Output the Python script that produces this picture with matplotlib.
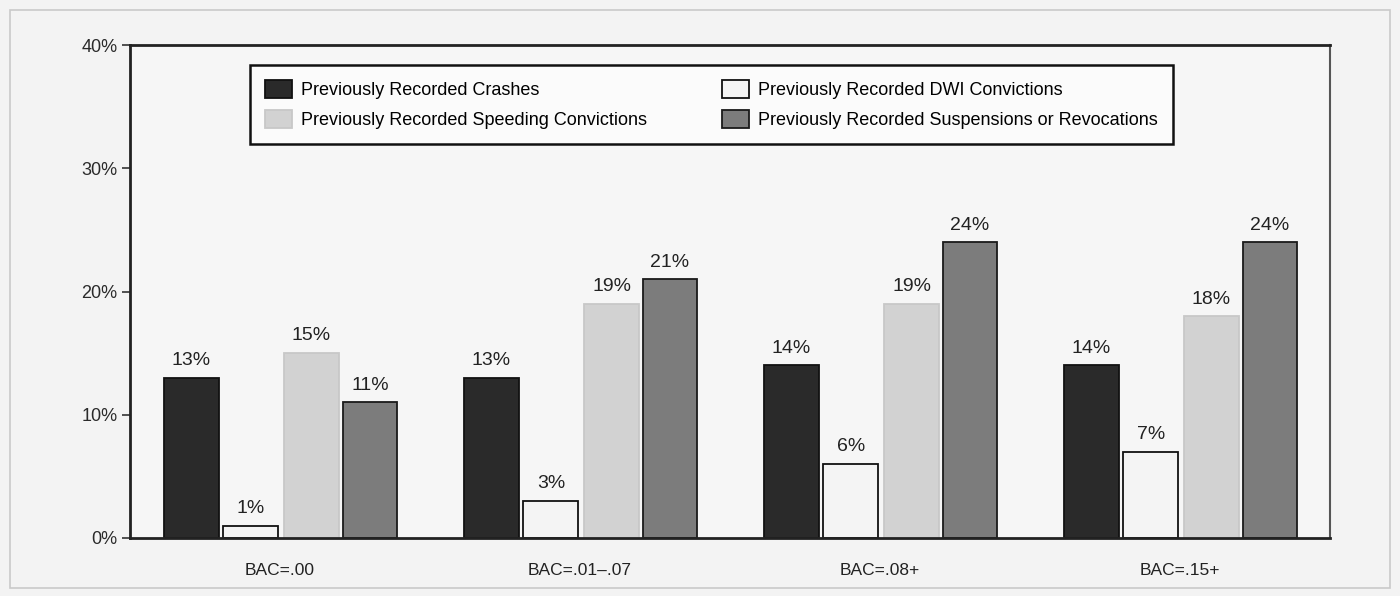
import matplotlib
matplotlib.use("Agg")
import matplotlib.pyplot as plt
import matplotlib.patches as mpatches
import numpy as np

# Share of drivers with prior records, by BAC group
GROUPS = ["BAC=.00", "BAC=.01\u2013.07", "BAC=.08+", "BAC=.15+"]
CRASHES    = [13, 13, 14, 14]
DWI        = [1, 3, 6, 7]
SPEEDING   = [15, 19, 19, 18]
SUSPENSION = [11, 21, 24, 24]

SERIES = [
    ("Previously Recorded Crashes",                  CRASHES,    "#2a2a2a", "#111111"),
    ("Previously Recorded DWI Convictions",          DWI,        "#f4f4f4", "#111111"),
    ("Previously Recorded Speeding Convictions",     SPEEDING,   "#d2d2d2", "#c8c8c8"),
    ("Previously Recorded Suspensions or Revocations", SUSPENSION, "#7c7c7c", "#1a1a1a"),
]
OFFSETS = [-0.295, -0.097, 0.105, 0.3]
BAR_W = 0.183

plt.rcParams["font.family"] = ["Liberation Sans Narrow", "Liberation Sans", "DejaVu Sans"]

fig = plt.figure(figsize=(14, 5.96), dpi=100, facecolor="#f3f3f3")
ax = fig.add_axes([130 / 1400, 58 / 596, 1200 / 1400, 493 / 596])
ax.set_facecolor("#f6f6f6")

# faint outer frame around the whole panel
fig.add_artist(mpatches.Rectangle((10 / 1400, 8 / 596), 1380 / 1400, 578 / 596,
                                  transform=fig.transFigure, fill=False,
                                  edgecolor="#c9c9c9", linewidth=1.2))

x = np.arange(len(GROUPS))
handles = []
for (label, vals, face, edge), off in zip(SERIES, OFFSETS):
    bars = ax.bar(x + off, vals, width=BAR_W, color=face, edgecolor=edge,
                  linewidth=1.3, label=label, zorder=2)
    handles.append(bars)
    for b, v in zip(bars, vals):
        ax.text(b.get_x() + b.get_width() / 2, v + 0.7, f"{v}%",
                ha="center", va="bottom", fontsize=14, color="#222222")

ax.set_xlim(-0.5, 3.5)
ax.set_ylim(0, 40)
ax.set_yticks([0, 10, 20, 30, 40])
ax.set_yticklabels(["0%", "10%", "20%", "30%", "40%"], fontsize=13, color="#2a2a2a")
ax.set_xticks(x)
ax.set_xticklabels(GROUPS, fontsize=12.5, color="#222222")
ax.tick_params(axis="x", length=0, pad=18)
ax.tick_params(axis="y", length=6, width=1.2, color="#333333", pad=3)

for side in ["left", "bottom", "top"]:
    ax.spines[side].set_linewidth(2)
    ax.spines[side].set_color("#222222")
ax.spines["right"].set_linewidth(1.5)
ax.spines["right"].set_color("#555555")

order = [handles[0], handles[2], handles[1], handles[3]]
leg = ax.legend(order, [h.get_label() for h in order], ncol=2,
                loc="upper left", bbox_to_anchor=(250 / 1400, 1 - 65 / 596),
                bbox_transform=fig.transFigure, borderaxespad=0,
                fontsize=13, frameon=True, fancybox=False,
                handlelength=1.45, handleheight=1.15, handletextpad=0.5,
                columnspacing=4.2, labelspacing=0.58, borderpad=0.85)
leg.get_frame().set_edgecolor("#111111")
leg.get_frame().set_linewidth(1.8)
leg.get_frame().set_facecolor("#fbfbfb")
leg.get_frame().set_alpha(1)

fig.savefig("out.png", dpi=100, facecolor=fig.get_facecolor())
